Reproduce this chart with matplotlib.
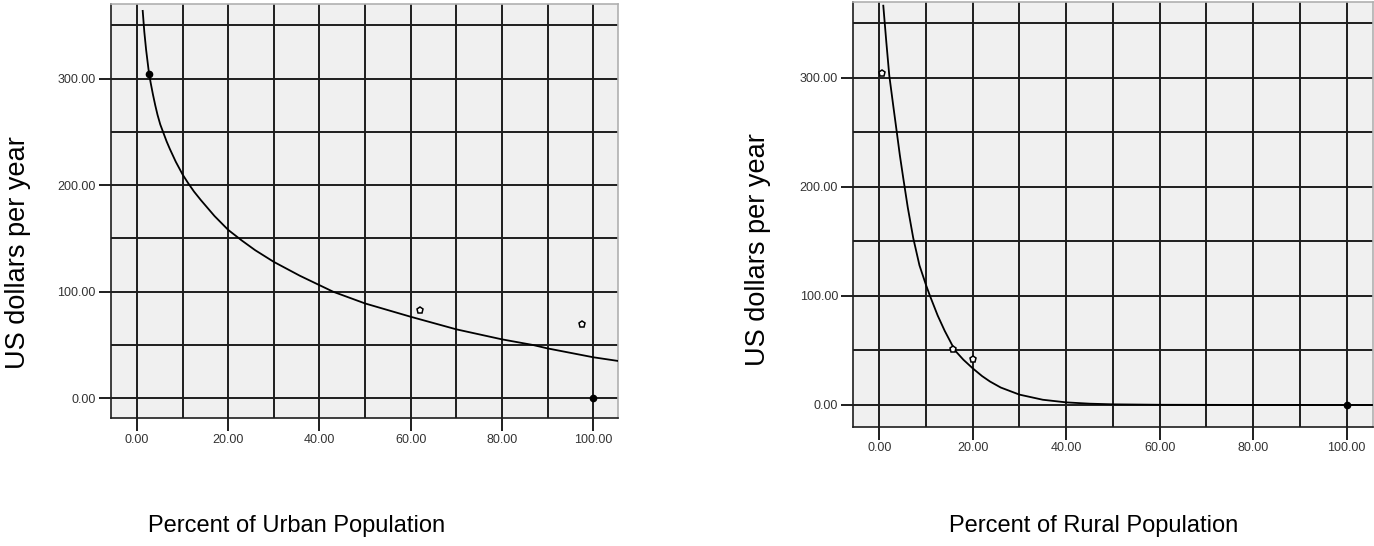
import matplotlib
matplotlib.use('Agg')
import matplotlib.pyplot as plt
import numpy as np

plt.rcParams['font.family'] = ['Liberation Sans', 'DejaVu Sans']

# observed points (urban)
urban_x = [2.6, 62.1, 97.6, 100.0]
urban_y = [304.4, 83.2, 70.0, 0.0]
urban_filled = [True, False, False, True]

# fitted curve (urban)
urban_curve_x = [1.25, 1.6, 2.0, 2.6, 3.0, 3.5, 4.0, 4.5, 5.1, 5.8, 6.5, 7.2, 8.5, 10, 11.2,
                 12.5, 14, 17, 20, 23, 25.9, 30, 35.7, 43, 50, 60, 70, 80, 86.8, 90, 100, 105.5]
urban_curve_y = [363.6, 344, 327, 306, 296, 285, 275, 266, 257, 249, 241, 234, 222, 210, 202,
                 194, 186, 171, 158, 148, 139, 128, 115, 100, 89, 76.5, 64.7, 55.3, 50, 46.8, 38.5, 35]

# observed points (rural)
rural_x = [0.6, 15.8, 20.0, 100.0]
rural_y = [304.0, 51.3, 42.2, 0.0]
rural_filled = [False, False, False, True]

rural_curve_x = [0.86, 1.5, 2.14, 3.0, 3.72, 4.4, 5.13, 6.1, 7.27, 8.6, 10, 10.85, 12.5, 14,
                 16.2, 18, 20, 22, 23.7, 26, 30, 35, 40, 45, 50, 60, 80, 105.6]
rural_curve_y = [366, 333, 302, 274, 251, 229, 208, 181, 153, 128, 110, 100, 82, 68,
                 50, 41.5, 33.6, 26.5, 21.5, 16, 9.5, 4.8, 2.4, 1.2, 0.6, 0.2, 0.05, 0]

x_ticks = [0, 20, 40, 60, 80, 100]
y_ticks = [0, 100, 200, 300]

W, H = 1374, 546
fig = plt.figure(figsize=(W / 100, H / 100), dpi=100)


def panel(rect, xlim, ylim, px, py, pfill, cx, cy):
    ax = fig.add_axes(rect)
    ax.set_facecolor('#f0f0f0')
    ax.set_xlim(*xlim)
    ax.set_ylim(*ylim)
    for v in range(0, 101, 10):
        ax.axvline(v, color='#1e1e1e', lw=1.4, zorder=1)
    for v in range(0, 351, 50):
        ax.axhline(v, color='#1e1e1e', lw=1.4, zorder=1)
    ax.plot(cx, cy, color='black', lw=1.3, zorder=3, solid_joinstyle='round')
    for x, y, f in zip(px, py, pfill):
        if f:
            ax.plot(x, y, 'o', ms=4.5, mfc='black', mec='black', zorder=4)
        else:
            ax.plot(x, y, 'p', ms=5, mfc='white', mec='black', mew=1.1, zorder=4)
    ax.set_xticks(x_ticks)
    ax.set_xticklabels(['%.2f' % t for t in x_ticks])
    ax.set_yticks(y_ticks)
    ax.set_yticklabels(['%.2f' % t for t in y_ticks])
    ax.tick_params(length=9, width=1.4, color='#1e1e1e', labelsize=9,
                   labelcolor='#333333', pad=2)
    ax.spines['left'].set_color('#1e1e1e')
    ax.spines['bottom'].set_color('#1e1e1e')
    ax.spines['top'].set_color('#b0b0b0')
    ax.spines['right'].set_color('#b0b0b0')
    for s in ax.spines.values():
        s.set_linewidth(1.2)
    return ax


panel([111 / W, 1 - 418.3 / H, 507.3 / W, 414 / H], (-5.7, 105.5), (-18.8, 369.8),
      urban_x, urban_y, urban_filled, urban_curve_x, urban_curve_y)
panel([853.3 / W, 1 - 426.7 / H, 519.4 / W, 424.7 / H], (-5.56, 105.6), (-19.9, 369.4),
      rural_x, rural_y, rural_filled, rural_curve_x, rural_curve_y)

fig.text(297 / W, 1 - 526 / H, 'Percent of Urban Population', ha='center', va='center', fontsize=17)
fig.text(1094 / W, 1 - 526 / H, 'Percent of Rural Population', ha='center', va='center', fontsize=17)
fig.text(18 / W, 1 - 253 / H, 'US dollars per year', ha='center', va='center', rotation=90, fontsize=19.5)
fig.text(758 / W, 1 - 250 / H, 'US dollars per year', ha='center', va='center', rotation=90, fontsize=19.5)

fig.savefig('out.png', dpi=100)
